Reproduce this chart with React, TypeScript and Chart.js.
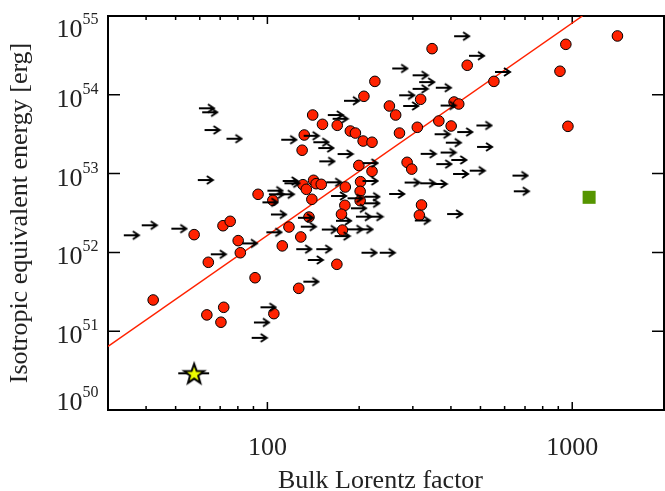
import { useEffect, useRef } from 'react';
import { Chart, registerables } from 'chart.js';

Chart.register(...registerables);

// ---- Data ----
// Measured bulk Lorentz factors (red circles)
const circleGamma = [
  42.2, 57.5, 64.0, 63.3, 70.4, 71.9, 71.5, 75.5, 80.2, 81.5,
  91.1, 93.2, 104.2, 105, 111.9, 117.7, 126.7, 128.7, 130.0, 132.1,
  130.8, 134.2, 141.7, 144.5, 150.2, 139.9, 136.9, 140.8, 151.6, 169.5,
  169.0, 180.1, 179.5, 175.0, 176.2, 187.1, 194.4, 206.1, 220.4, 207.3,
  225.2, 199.5, 220.4, 202.1, 201.5, 201.5, 251.3, 263.5, 271.2, 287.3,
  297.5, 310.3, 318.2, 320.3, 315.2, 346.9, 365.1, 400.7, 409.6, 424.3,
  452.4, 553.4, 911.5, 952.8, 968, 1407,
];
const circleEiso = [
  2.49e51, 1.68e52, 7.49e51, 1.61e51, 1.30e51, 2.01e51, 2.18e52, 2.48e52, 1.41e52, 9.9e51,
  4.77e51, 5.46e52, 4.58e52, 1.67e51, 1.21e52, 2.10e52, 3.50e51, 1.57e52, 1.98e53, 3.09e53,
  7.23e52, 6.32e52, 8.22e52, 7.45e52, 7.31e52, 4.72e52, 2.81e52, 5.54e53, 4.22e53, 4.10e53,
  7.06e51, 6.76e52, 3.96e52, 3.05e52, 1.92e52, 3.47e53, 3.27e53, 2.59e53, 2.50e53, 9.57e53,
  1.48e54, 1.27e53, 1.07e53, 7.89e52, 5.96e52, 4.53e52, 7.21e53, 5.54e53, 3.27e53, 1.39e53,
  1.14e53, 3.87e53, 8.77e53, 4.00e52, 2.96e52, 3.85e54, 4.65e53, 4.02e53, 8.10e53, 7.64e53,
  2.37e54, 1.48e54, 1.99e54, 4.37e54, 3.98e53, 5.58e54,
];

// Lower limits on the Lorentz factor (arrows)
const limitGamma = [
  33.8, 38.7, 48.4, 59.6, 61.1, 62.2, 73.4, 59.1, 65.2, 82.5,
  94.9, 90.3, 88.8, 100, 101.1, 109, 96.3, 102.7, 99.2, 125.9,
  128.7, 124.3, 144.7, 135.7, 131.2, 150.8, 166.1, 167.9, 183.2, 197.5,
  195.1, 213.1, 203.5, 233.6, 161.7, 183.2, 207.8, 207.8, 187.9, 112.2,
  113.7, 156.0, 205.1, 250.9, 281.9, 317.0, 345.7, 169.9, 148.0, 205.1,
  388.5, 304.5, 318.2, 369.9, 358.1, 401.0, 406.4, 461.0, 636.8, 643,
  353.6, 419.5, 485.0, 384.7, 487.2, 409.6, 458.5, 558.0, 256.7, 299.5,
  314.6, 299.5, 356.8, 270.5, 278.8, 369.9, 178.3, 157.8, 163.6, 111.0,
  131.5, 141.5, 146.9,
];
const limitEiso = [
  1.65e52, 2.21e52, 2.00e52, 6.74e53, 6.00e53, 3.57e53, 2.77e53, 8.29e52, 9.46e51, 1.30e52,
  2.01e51, 1.29e51, 8.24e50, 6.07e52, 5.46e52, 5.46e52, 4.32e52, 3.03e52, 1.80e52, 2.75e52,
  2.12e52, 1.10e52, 1.10e52, 8.01e51, 4.25e51, 1.95e52, 1.61e52, 2.52e52, 1.96e52, 1.96e52,
  2.84e52, 2.84e52, 9.91e51, 9.91e51, 5.20e52, 4.86e52, 5.09e52, 4.20e52, 3.63e52, 8.06e52,
  7.53e52, 7.76e52, 8.06e52, 5.51e52, 7.71e52, 7.53e52, 7.38e52, 1.77e53, 1.43e53, 1.36e53,
  3.07e52, 2.54e52, 1.78e53, 1.85e53, 1.32e53, 1.49e53, 9.89e52, 1.09e53, 9.44e52, 5.96e52,
  3.16e53, 3.37e53, 4.08e53, 2.47e53, 2.18e53, 5.54e54, 3.13e54, 1.95e54, 2.16e54, 1.77e54,
  1.45e54, 1.19e54, 1.23e54, 9.86e53, 7.21e53, 7.31e53, 8.39e53, 5.54e53, 4.96e53, 2.69e53,
  3.02e53, 2.50e53, 2.11e53,
];

// Best-fit relation (red line)
const fitGamma = [30, 1080];
const fitEiso = [6.4e50, 1.0e55];

// Highlighted burst (yellow star) with its Lorentz-factor range
const starGamma = [57.5];
const starEiso = [2.92e50];
const starGammaRange = [51.0, 64.4];

// Green square
const squareGamma = [1136];
const squareEiso = [5.0e52];

// Axes
const xMin = 30;
const xMax = 2000;
const yMin = 1e50;
const yMax = 1e55;
const xTickValues = [100, 1000];
const xTickLabels = ['100', '1000'];
const xMinorTicks = [40, 50, 60, 70, 80, 90, 200, 300, 400, 500, 600, 700, 800, 900];
const yTickExponents = [50, 51, 52, 53, 54, 55];
const xTitle = 'Bulk Lorentz factor';
const yTitle = 'Isotropic equivalent energy [erg]';

const FONT = "'Liberation Serif', 'Times New Roman', serif";
const TEXT = '#222';

function makeArrow(): HTMLCanvasElement {
  const L = 15;
  const c = document.createElement('canvas');
  c.width = 2 * L + 4;
  c.height = 12;
  const g = c.getContext('2d')!;
  const cx = c.width / 2;
  const cy = c.height / 2;
  g.strokeStyle = '#000';
  g.lineWidth = 2;
  g.lineCap = 'butt';
  g.beginPath();
  g.moveTo(cx, cy);
  g.lineTo(cx + L - 1, cy);
  g.stroke();
  g.beginPath();
  g.moveTo(cx + L - 6, cy - 4);
  g.lineTo(cx + L, cy);
  g.lineTo(cx + L - 6, cy + 4);
  g.stroke();
  return c;
}

function makeStar(): HTMLCanvasElement {
  const c = document.createElement('canvas');
  c.width = 28;
  c.height = 28;
  const g = c.getContext('2d')!;
  const R = 10.5;
  const r = 4.3;
  const cx = 14;
  const cy = 15;
  g.beginPath();
  for (let i = 0; i < 10; i++) {
    const ang = -Math.PI / 2 + (i * Math.PI) / 5;
    const rad = i % 2 === 0 ? R : r;
    const px = cx + rad * Math.cos(ang);
    const py = cy + rad * Math.sin(ang);
    if (i === 0) g.moveTo(px, py);
    else g.lineTo(px, py);
  }
  g.closePath();
  g.fillStyle = '#eeff00';
  g.fill();
  g.strokeStyle = '#000';
  g.lineWidth = 2;
  g.lineJoin = 'miter';
  g.stroke();
  return c;
}

const axisPlugin = {
  id: 'axisFrame',
  beforeDatasetsDraw(chart: any) {
    const { ctx, chartArea: a, scales } = chart;
    const x = scales.x;
    const y = scales.y;
    ctx.save();
    ctx.strokeStyle = '#000';
    ctx.lineWidth = 1.5;
    ctx.beginPath();
    for (const v of xMinorTicks) {
      const p = x.getPixelForValue(v);
      ctx.moveTo(p, a.bottom);
      ctx.lineTo(p, a.bottom - 4);
      ctx.moveTo(p, a.top);
      ctx.lineTo(p, a.top + 4);
    }
    for (const v of xTickValues) {
      const p = x.getPixelForValue(v);
      ctx.moveTo(p, a.bottom);
      ctx.lineTo(p, a.bottom - 8);
      ctx.moveTo(p, a.top);
      ctx.lineTo(p, a.top + 8);
    }
    for (const e of yTickExponents) {
      const p = y.getPixelForValue(Math.pow(10, e));
      ctx.moveTo(a.left, p);
      ctx.lineTo(a.left + 12, p);
      ctx.moveTo(a.right, p);
      ctx.lineTo(a.right - 12, p);
    }
    ctx.stroke();
    ctx.lineWidth = 2;
    ctx.strokeRect(a.left, a.top, a.right - a.left, a.bottom - a.top);
    ctx.restore();
  },
  afterDraw(chart: any) {
    const { ctx, chartArea: a, scales } = chart;
    const y = scales.y;
    ctx.save();
    ctx.fillStyle = TEXT;
    const first = yTickExponents[0];
    const last = yTickExponents[yTickExponents.length - 1];
    for (const e of yTickExponents) {
      const p = y.getPixelForValue(Math.pow(10, e));
      const shift = e === first ? -12 : e === last ? 8.5 : 0;
      ctx.font = `26px ${FONT}`;
      ctx.textAlign = 'right';
      ctx.textBaseline = 'alphabetic';
      ctx.fillText('10', 82.5, p + 12 + shift);
      ctx.font = `16px ${FONT}`;
      ctx.textAlign = 'left';
      ctx.fillText(String(e), 82.5, p - 1 + shift);
    }
    // x-axis title
    ctx.font = `26px ${FONT}`;
    ctx.textAlign = 'center';
    ctx.textBaseline = 'alphabetic';
    ctx.fillText(xTitle, (a.left + a.right) / 2 - 5.5, 487.5);
    ctx.restore();
  },
};

export default function App() {
  const ref = useRef<HTMLCanvasElement | null>(null);

  useEffect(() => {
    document.body.style.margin = '0';
    const canvas = ref.current;
    if (!canvas) return;
    const arrow = makeArrow();
    const star = makeStar();

    const chart = new Chart(canvas, {
      type: 'scatter',
      data: {
        datasets: [
          {
            label: 'Lower limits',
            data: limitGamma.map((g, i) => ({ x: g, y: limitEiso[i] })),
            pointStyle: arrow as any,
            pointRadius: 1,
            order: 0,
          },
          {
            label: 'Star',
            data: starGamma.map((g, i) => ({ x: g, y: starEiso[i] })),
            pointStyle: star as any,
            pointRadius: 1,
            order: 1,
          },
          {
            label: 'Star range',
            data: starGammaRange.map((g) => ({ x: g, y: starEiso[0] })),
            showLine: true,
            borderColor: '#000',
            borderWidth: 2,
            pointRadius: 0,
            order: 2,
          },
          {
            label: 'Square',
            data: squareGamma.map((g, i) => ({ x: g, y: squareEiso[i] })),
            pointStyle: 'rect',
            pointRadius: 9.2,
            backgroundColor: '#559500',
            borderWidth: 0,
            order: 3,
          },
          {
            label: 'Measured',
            data: circleGamma.map((g, i) => ({ x: g, y: circleEiso[i] })),
            pointStyle: 'circle',
            pointRadius: 5.3,
            backgroundColor: '#ff2200',
            borderColor: '#000',
            borderWidth: 1,
            order: 4,
          },
          {
            label: 'Fit',
            data: fitGamma.map((g, i) => ({ x: g, y: fitEiso[i] })),
            showLine: true,
            borderColor: '#ff2200',
            borderWidth: 1.5,
            pointRadius: 0,
            order: 5,
          },
        ],
      },
      options: {
        responsive: false,
        animation: false,
        devicePixelRatio: 1,
        layout: { autoPadding: false, padding: { left: 0, right: 1, top: 16, bottom: 0 } },
        plugins: {
          legend: { display: false },
          tooltip: { enabled: false },
        },
        scales: {
          x: {
            type: 'logarithmic',
            min: xMin,
            max: xMax,
            grid: { display: false, drawTicks: false },
            border: { display: false },
            afterBuildTicks: (scale: any) => {
              scale.ticks = xTickValues.map((v) => ({ value: v }));
            },
            afterFit: (scale: any) => {
              scale.height = 81;
            },
            ticks: {
              autoSkip: false,
              maxRotation: 0,
              padding: 23,
              color: TEXT,
              font: { family: FONT, size: 26 },
              callback: (v: any) => {
                const i = xTickValues.indexOf(Number(v));
                return i >= 0 ? xTickLabels[i] : '';
              },
            },
          },
          y: {
            type: 'logarithmic',
            min: yMin,
            max: yMax,
            grid: { display: false, drawTicks: false },
            border: { display: false },
            afterBuildTicks: (scale: any) => {
              scale.ticks = yTickExponents.map((e) => ({ value: Math.pow(10, e) }));
            },
            afterFit: (scale: any) => {
              scale.width = 108;
            },
            ticks: { display: false },
            title: {
              display: true,
              text: yTitle,
              color: TEXT,
              font: { family: FONT, size: 26, lineHeight: 1.2 },
              padding: { top: 4.8, bottom: 0 },
            },
          },
        },
      },
      plugins: [axisPlugin],
    });
    return () => chart.destroy();
  }, []);

  return (
    <div style={{ width: 665, height: 491 }}>
      <canvas ref={ref} width={665} height={491} style={{ display: 'block' }} />
    </div>
  );
}
